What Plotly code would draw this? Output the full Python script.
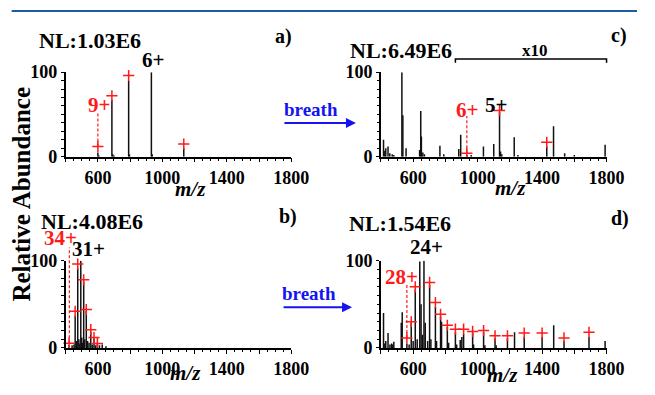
import plotly.graph_objects as go

W, H = 655, 395
FONT = "Liberation Serif, Tinos, DejaVu Serif, Noto Serif, serif"

# ---------------- data ----------------
# panel a (before, top-left)
a_mz = [600, 606, 687, 692, 700, 791, 796, 932, 937, 1133]
a_ab = [5, 1.5, 67, 3, 1.5, 90, 2.5, 100, 3, 10]
a_mark_mz = [600, 687, 791, 932, 1133]
a_mark_ab = [12, 72, 96, 101, 15]

# panel c (after breath, top-right)
c_mz = [416, 424, 430, 444, 455, 470, 480, 530, 536, 556, 640, 647, 651, 660, 670,
        766, 790, 883, 895, 933, 960, 1036, 1100, 1136, 1142, 1150, 1227, 1250,
        1429, 1471, 1540, 1600, 1791]
c_ab = [20, 7, 10, 12, 4, 3, 2, 100, 49, 10, 8, 54, 24, 5, 3,
        13, 3, 9, 26, 2, 2, 12, 15, 53, 6, 3, 23, 2,
        12, 36, 4, 2, 14]
c_mark_mz = [933, 1136, 1429]
c_mark_ab = [4, 54.5, 17]

# panel b (before, bottom-left)
b_mz = [421, 440, 452, 459, 466, 475, 482, 488, 494, 500, 506, 512, 518, 528, 536,
        545, 556, 565, 576, 586, 597, 610, 627, 650]
b_ab = [3, 3, 4, 37, 8, 91, 10, 5, 100, 12, 6, 76, 10, 43, 8,
        6, 18.5, 4, 11, 3, 5.5, 3, 4, 2]
b_mark_mz = [421, 459, 475, 494, 512, 528, 556, 576, 597]
b_mark_ab = [5.5, 42, 96, 105, 78, 44, 21, 12, 5]

# panel d (after breath, bottom-right)
d_mz = [416, 424, 430, 444, 456, 466, 472, 480, 526, 532, 561, 575, 588, 600, 613,
        625, 641, 649, 657, 667, 675, 690, 702, 710, 738, 745, 770, 776, 812, 820,
        862, 870, 892, 902, 913, 969, 975, 1037, 1045, 1108, 1115, 1185, 1229,
        1289, 1400, 1472, 1536, 1691, 1791]
d_ab = [40, 5, 8, 17, 4, 5, 4, 7, 29, 41, 5, 4, 29, 8, 67,
        10, 99, 50, 15, 100, 29, 8, 72, 10, 47, 8, 36, 30, 24, 6,
        18, 4, 9, 12.6, 16, 18, 4, 18, 3, 11, 3, 11, 18,
        12.6, 12.6, 26, 8, 12.6, 8]
d_mark_mz = [561, 588, 613, 641, 667, 702, 738, 770, 812, 862, 913, 969, 1037,
             1108, 1185, 1289, 1400, 1536, 1691]
d_mark_ab = [11.5, 30, 70, 104, 107, 75, 52, 38.5, 26, 21.5, 21.5, 19, 20,
             14, 14, 17, 17, 11.5, 18]

x_ticks = [400, 600, 800, 1000, 1200, 1400, 1600, 1800]
x_ticktext = ["", "<b>600</b>", "", "<b>1000</b>", "", "<b>1400</b>", "", "<b>1800</b>"]
y_ticks = [0, 100]
y_ticktext = ["<b>0</b>", "<b>100</b>"]

nl_texts = ["NL:1.03E6", "NL:6.49E6", "NL:4.08E6", "NL:1.54E6"]
panel_letters = ["a)", "c)", "b)", "d)"]

# ---------------- layout geometry ----------------
def px(x):
    return x / W

def py(y):
    return 1 - y / H

L_X = [px(67.5), px(299.5)]
R_X = [px(391.7), px(623.7)]
T_Y = [py(154.5), py(65.5)]
B_Y = [py(356), py(264)]

panels = [
    ("x", "y", L_X, T_Y, a_mz, a_ab, a_mark_mz, a_mark_ab),
    ("x2", "y2", R_X, T_Y, c_mz, c_ab, c_mark_mz, c_mark_ab),
    ("x3", "y3", L_X, B_Y, b_mz, b_ab, b_mark_mz, b_mark_ab),
    ("x4", "y4", R_X, B_Y, d_mz, d_ab, d_mark_mz, d_mark_ab),
]

fig = go.Figure()

for xa, ya, xd, yd, mz, ab, mmz, mab in panels:
    xs, ys = [], []
    for m, h in zip(mz, ab):
        xs += [m, m, None]
        ys += [0, h, None]
    fig.add_trace(go.Scatter(x=xs, y=ys, mode="lines", xaxis=xa, yaxis=ya,
                             line=dict(color="#111111", width=1.5),
                             showlegend=False, hoverinfo="skip"))
    fig.add_trace(go.Scatter(x=mmz, y=mab, mode="markers", xaxis=xa, yaxis=ya,
                             marker=dict(symbol="cross-thin", size=8,
                                         line=dict(color="#ff1a1a", width=1.5)),
                             cliponaxis=False, showlegend=False, hoverinfo="skip"))

TICKFONT = dict(family=FONT, size=18, color="black")
axis_common_x = dict(range=[400, 1800], showline=True, linecolor="black", linewidth=1.5,
                     ticks="outside", ticklen=4, tickwidth=1.2, tickcolor="black",
                     tickvals=x_ticks, ticktext=x_ticktext, showgrid=False, zeroline=False,
                     tickfont=TICKFONT,
                     minor=dict(dtick=50, ticks="outside", ticklen=2.5, tickcolor="black"),
                     fixedrange=True)
axis_common_y = dict(range=[0, 100], showline=True, linecolor="black", linewidth=1.5,
                     ticks="outside", ticklen=3, tickwidth=1.2, tickcolor="black",
                     tickvals=y_ticks, ticktext=y_ticktext, showgrid=False, zeroline=False,
                     tickfont=TICKFONT,
                     minor=dict(dtick=10, ticks="outside", ticklen=2.5, tickcolor="black"),
                     fixedrange=True)

layout = dict(width=W, height=H, margin=dict(l=0, r=0, t=0, b=0),
              paper_bgcolor="white", plot_bgcolor="white",
              font=dict(family=FONT))
for i, (xa, ya, xd, yd, *_rest) in enumerate(panels):
    xk = "xaxis" if i == 0 else f"xaxis{i+1}"
    yk = "yaxis" if i == 0 else f"yaxis{i+1}"
    layout[xk] = dict(axis_common_x, domain=xd, anchor=ya)
    layout[yk] = dict(axis_common_y, domain=yd, anchor=xa)
fig.update_layout(**layout)


def dx(m, dom):
    return dom[0] + (m - 400) / 1400 * (dom[1] - dom[0])


def dy(h, dom):
    return dom[0] + h / 100 * (dom[1] - dom[0])


annos = []


def text(x, y, s, size, color="black", angle=0):
    annos.append(dict(x=px(x), y=py(y), xref="paper", yref="paper", text=f"<b>{s}</b>",
                      showarrow=False, xanchor="center", yanchor="middle",
                      textangle=angle,
                      font=dict(family=FONT, size=size, color=color)))


# NL labels and panel letters
text(92.5, 32, nl_texts[0], 22)
text(412.5, 43, nl_texts[1], 22)
text(95, 223, nl_texts[2], 22)
text(411.7, 225, nl_texts[3], 22)
text(292, 28, panel_letters[0], 20)
text(636, 27, panel_letters[1], 20)
text(296, 218, panel_letters[2], 20)
text(638, 220, panel_letters[3], 20)

# charge-state labels
text(101.7, 100, "9+", 21, "#ff1a1a")
text(157, 53, "6+", 21)
text(480, 105, "6+", 21, "#ff1a1a")
text(510, 100, "5+", 21)
text(61.7, 240, "34+", 21, "#ff1a1a")
text(90.7, 252, "31+", 21)
text(413.3, 281, "28+", 21, "#ff1a1a")
text(438.3, 250, "24+", 21)

# x10 bracket text
text(550, 43, "x10", 17)

# axis titles
for (x, y) in [(196, 189), (525, 188), (191, 382), (517, 384)]:
    text(x, y, "<i>m/z</i>", 21)
text(22, 194, "Relative Abundance", 25, angle=-90)

# breath arrows
BLUE = "#1414f0"
for (tx, ty, x0, x1, ay) in [(320, 105, 293, 366, 119), (318, 299, 292, 362, 313)]:
    text(tx, ty, "breath", 19, BLUE)
    annos.append(dict(x=px(x1), y=py(ay), xref="paper", yref="paper",
                      ax=-(x1 - x0), ay=0, axref="pixel", ayref="pixel",
                      showarrow=True, arrowhead=2, arrowsize=1, arrowwidth=2,
                      arrowcolor=BLUE, text=""))

fig.update_layout(annotations=annos)

shapes = []
# top blue rule
shapes.append(dict(type="line", xref="paper", yref="paper", x0=px(12), x1=1,
                   y0=py(1), y1=py(1), line=dict(color="#1f5aa6", width=2)))

# red dashed guide lines: (m/z, from height, to height, xdomain, ydomain)
dashes = [(600, 12, 53, L_X, T_Y), (933, 4, 48, R_X, T_Y),
          (423, 5.5, 115, L_X, B_Y), (561, 11.5, 73, R_X, B_Y)]
for m, h0, h1, xd, yd in dashes:
    shapes.append(dict(type="line", xref="paper", yref="paper",
                       x0=dx(m, xd), x1=dx(m, xd), y0=dy(h0, yd), y1=dy(h1, yd),
                       line=dict(color="#ff1a1a", width=1.2, dash="3px,2px")))

# x10 bracket in panel c
bx0, bx1 = dx(862, R_X), dx(1800, R_X)
shapes.append(dict(type="path", xref="paper", yref="paper",
                   path=f"M {bx0},{py(55.5)} L {bx0},{py(51.7)} L {bx1},{py(51.7)} L {bx1},{py(55.5)}",
                   line=dict(color="black", width=1.5)))
fig.update_layout(shapes=shapes)

fig.write_html("out.html")
